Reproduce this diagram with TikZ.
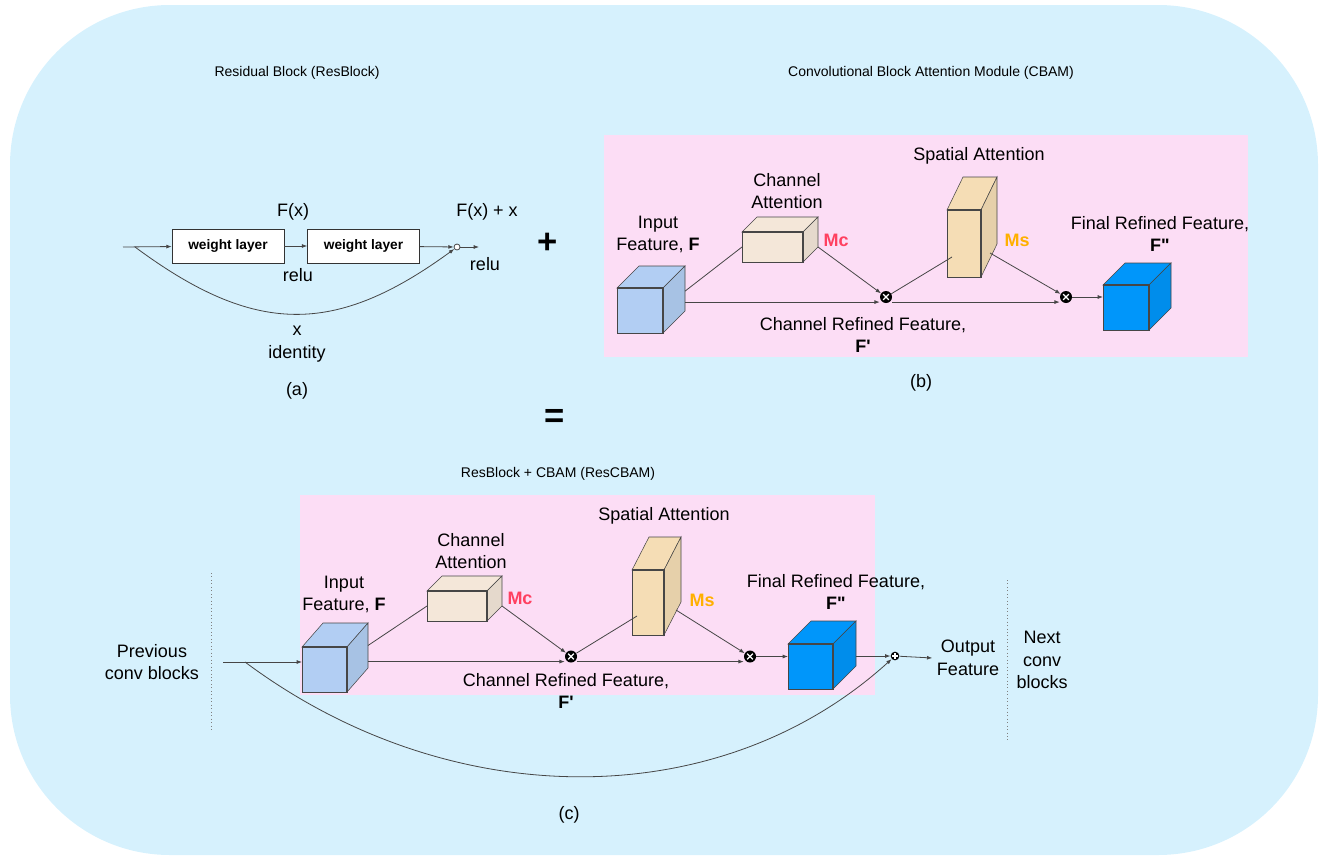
\documentclass[tikz,border=0pt]{standalone}
\usepackage{fontspec}
\setmainfont{Liberation Sans}
\usetikzlibrary{arrows.meta,positioning,calc}

\definecolor{bgblue}{RGB}{214,241,253}
\definecolor{cbampink}{RGB}{252,221,245}
\definecolor{inblue}{RGB}{178,206,243}
\definecolor{chbeige}{RGB}{244,231,217}
\definecolor{sptan}{RGB}{245,221,181}
\definecolor{outblue}{RGB}{0,150,250}
\definecolor{mcred}{RGB}{255,64,96}
\definecolor{msorange}{RGB}{255,176,0}
\definecolor{edge}{RGB}{70,70,70}

% feature cube: front face is a node, top and side faces hang off its corners
% #1 name, #2 centre, #3 width, #4 height, #5 depth x, #6 depth y, #7 colour
\newcommand{\featcube}[7]{%
  \node[cubefront,fill=#7,minimum width=#3*0.75pt,minimum height=#4*0.75pt] (#1) at (#2) {};
  \filldraw[fill=#7,draw=edge,line width=0.4pt] (#1.north west) -- ++(#5,-#6) -- ++(#3,0) -- (#1.north east) -- cycle;
  \filldraw[fill=#7!94!black,draw=edge,line width=0.4pt] (#1.north east) -- ++(#5,-#6) -- ++(0,#4) -- (#1.south east) -- cycle;
  \draw[edge,line width=1.3pt] (#1.north west) -- (#1.north east) -- (#1.south east);
  \coordinate (#1-back) at ([shift={(#5,-#6)}]#1.east);
  \coordinate (#1-foot) at ([shift={(#5,-#6)}]#1.south east);
}

\begin{document}
\begin{tikzpicture}[x=0.75pt,y=-0.75pt,>={Latex[length=4pt,width=3pt]},
  every node/.style={font=\fontsize{13.5}{17}\selectfont}]
\tikzstyle{cubefront}=[draw=edge,line width=0.4pt,inner sep=0pt,outer sep=0pt]
\tikzstyle{wire}=[draw=edge,line width=0.6pt]
\tikzstyle{title}=[font=\fontsize{10.5}{13}\selectfont]
\tikzstyle{lbl}=[align=center]
\tikzstyle{weight}=[draw=black!80,fill=white,line width=0.5pt,minimum width=84pt,minimum height=25.5pt,inner sep=0pt,font=\fontsize{10.3}{12}\selectfont\bfseries]
\tikzstyle{mult}=[circle,fill=black,inner sep=0pt,minimum size=9pt,
  path picture={\draw[white,line width=1pt] (path picture bounding box.center) ++(-2.1pt,-2.1pt) -- ++(4.2pt,4.2pt)
    (path picture bounding box.center) ++(-2.1pt,2.1pt) -- ++(4.2pt,-4.2pt);}]
\tikzstyle{addmark}=[circle,fill=black,inner sep=0pt,minimum size=6.5pt,
  path picture={\draw[white,line width=0.8pt] (path picture bounding box.center) ++(-2pt,0) -- ++(4pt,0)
    (path picture bounding box.center) ++(0,-2pt) -- ++(0,4pt);}]
\tikzstyle{addsmall}=[circle,draw=edge,fill=white,line width=0.6pt,inner sep=0pt,minimum size=4.5pt]
\tikzstyle{attnmark}=[font=\fontsize{13.5}{17}\selectfont\bfseries]
\tikzstyle{bigop}=[font=\fontsize{26}{26}\selectfont\bfseries]
\tikzstyle{low}=[yshift=-3.8pt]

\useasboundingbox (0,0) rectangle (1324,857);
\fill[bgblue,rounded corners=120pt] (10,5) rectangle (1318,855);

% (a) residual block
\node[title] (ttlA) at (297,73) {Residual Block (ResBlock)};
\coordinate (ainp) at (123,247);
\coordinate (asplit) at (135,247);
\node[weight] (w1) at (228,246) {weight layer};
\node[weight] (w2) at (363.5,246) {weight layer};
\node[addsmall] (asum) at (457,247) {};
\coordinate (aout) at (479,247);
\draw[wire,->] (ainp) -- (w1);
\draw[wire,->] (w1) -- (w2);
\draw[wire,->] (w2) -- (asum);
\draw[wire,->] (asum) -- (aout);
\draw[wire,->] (asplit) .. controls (255,336) and (335,336) .. (asum);
\node (fx) at (293,212) {F(x)};
\node (fxx) at (487,212) {F(x) + x};
\node (relu1) at (298,275) {relu};
\node (relu2) at (485,264) {relu};
\node[lbl] (ident) at (297,344) {x\\identity};
\node[below=8pt of ident] (capA) {(a)};

\node[bigop] (plusop) at (548,243) {+};
\node[bigop] (eqop) at (555,418) {=};

% (b) CBAM
\fill[cbampink] (604,135) rectangle (1248,357);
\node[title] (ttlB) at (931,73) {Convolutional Block Attention Module (CBAM)};
\featcube{inB}{640,310.5}{46}{45}{22}{22}{inblue}
\featcube{chB}{772.5,247}{61}{30}{15}{15}{chbeige}
\featcube{spB}{964,243.5}{34}{67}{16}{33}{sptan}
\featcube{fiB}{1126,307.5}{46}{45}{22}{22}{outblue}
\node[mult] (xB1) at (886,297) {};
\node[mult] (xB2) at (1066,297) {};
\draw[wire,->] ([low]inB-back |- xB1) -- ([low]xB1.west);
\draw[wire,->] ([low]xB1.east) -- ([low]xB2.west);
\draw[wire,->] (xB2) -- (xB2 -| fiB.west);
\draw[wire] ([yshift=-2pt]inB-back) -- (chB.west);
\draw[wire,->] (chB-foot) -- (xB1);
\draw[wire] (xB1) -- ([shift={(5,13.5)}]spB.west);
\draw[wire,->] ([shift={(-7,9)}]spB-foot) -- (xB2);
\node (spattB) at (979,156) {Spatial Attention};
\node[lbl] (chattB) at (787,191) {Channel\\Attention};
\node[lbl] (infB) at (658,234.5) {Input\\Feature, \textbf{F}};
\node[lbl] (finB) at (1160,234) {Final Refined Feature,\\\textbf{F\textquotedbl}};
\node[lbl] (crfB) at (863,335) {Channel Refined Feature,\\\textbf{F\textquotesingle}};
\node[attnmark,text=mcred] (mcB) at (836,240) {Mc};
\node[attnmark,text=msorange] (msB) at (1017,240) {Ms};
\node (capB) at (921,383) {(b)};

% (c) ResBlock + CBAM
\fill[cbampink] (300,495) rectangle (875,695);
\node[title] (ttlC) at (558,474) {ResBlock + CBAM (ResCBAM)};
\featcube{inC}{324.5,669.5}{45}{45}{21}{24}{inblue}
\featcube{chC}{457,606}{60}{30}{15}{15}{chbeige}
\featcube{spC}{648,602.5}{32}{65}{17}{33}{sptan}
\featcube{fiC}{810.5,666.5}{45}{45}{23}{23}{outblue}
\node[mult] (xC1) at (571,656.5) {};
\node[mult] (xC2) at (750,656.5) {};
\node[addmark] (sumC) at (895,656) {};
\coordinate (cin) at (223,662);
\coordinate (csplit) at (245,662);
\node[lbl] (prevC) at (152,662) {Previous\\conv blocks};
\node[lbl] (outC) at (968,658) {Output\\Feature};
\node[lbl] (nextC) at (1042,660) {Next\\conv\\blocks};
\draw[wire,->] (cin) -- (cin -| inC.west);
\draw[wire,->] ([low]inC-back |- xC1) -- ([low]xC1.west);
\draw[wire,->] ([low]xC1.east) -- ([low]xC2.west);
\draw[wire,->] (xC2) -- (xC2 -| fiC.west);
\draw[wire] (inC-back) -- (chC.west);
\draw[wire,->] (chC-foot) -- (xC1);
\draw[wire] (xC1) -- ([shift={(5,13.5)}]spC.west);
\draw[wire,->] ([shift={(-5,8)}]spC-foot) -- (xC2);
\draw[wire,->] (fiC-back |- sumC) -- (sumC);
\draw[wire,->] (sumC) -- (outC.west);
\draw[wire,->] (csplit) .. controls (450,815) and (720,815) .. (sumC);
\draw[gray,dotted,line width=0.6pt] (211,573) -- (211,732);
\draw[gray,dotted,line width=0.6pt] (1007,580) -- (1007,740);
\node (spattC) at (664,516) {Spatial Attention};
\node[lbl] (chattC) at (471,551) {Channel\\Attention};
\node[lbl] (infC) at (344,594.5) {Input\\Feature, \textbf{F}};
\node[lbl] (finC) at (836,592) {Final Refined Feature,\\\textbf{F\textquotedbl}};
\node[lbl] (crfC) at (566,691) {Channel Refined Feature,\\\textbf{F\textquotesingle}};
\node[attnmark,text=mcred] (mcC) at (520,598) {Mc};
\node[attnmark,text=msorange] (msC) at (702,600) {Ms};
\node (capC) at (569,815) {(c)};
\end{tikzpicture}
\end{document}
